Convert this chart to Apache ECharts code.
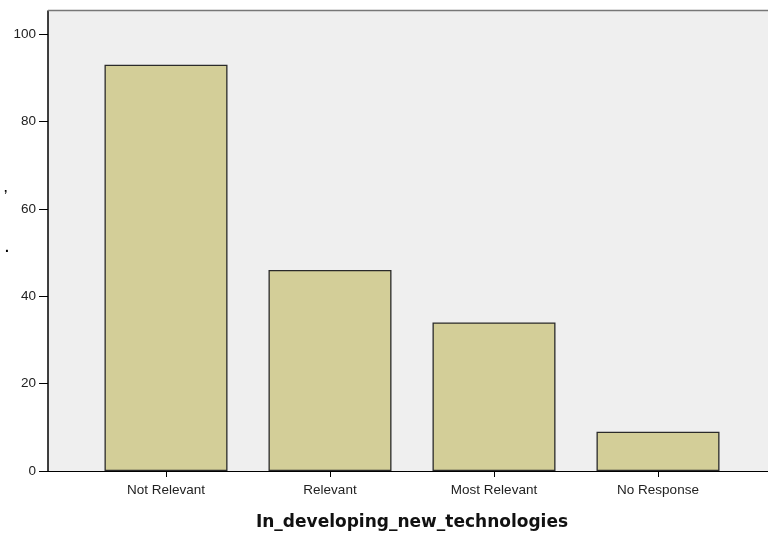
<!DOCTYPE html>
<html><head><meta charset="utf-8">
<script src="https://cdn.jsdelivr.net/npm/echarts@6/dist/echarts.min.js"></script>
<style>html,body{margin:0;padding:0;background:#fff}#c{width:768px;height:537px}</style>
</head><body><div id="c"></div>
<script>
const categories = ['Not Relevant', 'Relevant', 'Most Relevant', 'No Response'];
const counts = [93, 46, 34, 9];
const yTicks = [0, 20, 40, 60, 80, 100];
const xTitle = 'In_developing_new_technologies';

const chart = echarts.init(document.getElementById('c'));
const TOP = 11, BOTTOM = 66, YMAX = 105.3;
const FONT = 'Arial, Liberation Sans, sans-serif';
const TFONT = 'DejaVu Sans, Verdana, sans-serif';
chart.setOption({
  animation: false,
  grid: [
    {left: 48, right: 0, top: TOP, bottom: BOTTOM, show: true, backgroundColor: '#efefef', borderWidth: 0},
    {left: 84, right: 28, top: TOP, bottom: BOTTOM}
  ],
  xAxis: [
    {gridIndex: 0, type: 'value', min: 0, max: 1, axisLine: {show: true, lineStyle: {color: '#000', width: 1}},
     axisTick: {show: false}, axisLabel: {show: false}, splitLine: {show: false}},
    {gridIndex: 1, type: 'category', data: categories, boundaryGap: true,
     axisLine: {show: false}, axisTick: {show: true, alignWithLabel: true, length: 6, lineStyle: {color: '#000'}},
     axisLabel: {color: '#222', fontFamily: FONT, fontSize: 13.5, margin: 12},
     name: xTitle, nameLocation: 'middle', nameGap: 43,
     nameTextStyle: {color: '#111', fontFamily: TFONT, fontSize: 17, fontWeight: 'bold'}}
  ],
  yAxis: [
    {gridIndex: 0, type: 'value', min: 0, max: YMAX,
     axisLine: {show: true, lineStyle: {color: '#000', width: 1.5}},
     axisTick: {show: true, length: 9, customValues: yTicks, lineStyle: {color: '#000'}},
     axisLabel: {color: '#222', fontFamily: FONT, fontSize: 13.5, margin: 12, customValues: yTicks},
     splitLine: {show: false}},
    {gridIndex: 1, type: 'value', min: 0, max: YMAX, show: false}
  ],
  series: [{
    type: 'bar', xAxisIndex: 1, yAxisIndex: 1, data: counts, barWidth: 123,
    itemStyle: {color: '#d3ce98', borderColor: '#2a2a2a', borderWidth: 1.3}
  }],
  graphic: [
    {type: 'line', shape: {x1: 48, y1: 10.5, x2: 768, y2: 10.5}, style: {stroke: '#777', lineWidth: 1.5}, z: 10},
    {type: 'text', left: 4, top: 190, style: {text: '\u2019', fill: '#000', font: 'bold 12px Arial'}},
    {type: 'text', left: 5, top: 241, style: {text: '.', fill: '#000', font: 'bold 14px Arial'}}
  ]
});
</script></body></html>
